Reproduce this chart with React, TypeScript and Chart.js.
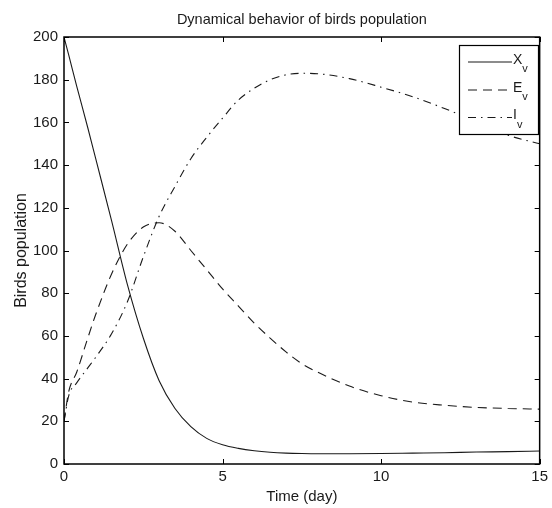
import React, { useEffect, useRef } from "react";
import { Chart, registerables } from "chart.js";

Chart.register(...registerables);

const chartTitle = "Dynamical behavior of birds population";
const xTitle = "Time (day)";
const yTitle = "Birds population";

const times = [0, 0.15, 0.4, 0.75, 1, 1.5, 2, 2.5, 3, 3.5, 4, 4.5, 5, 5.5, 6, 6.5, 7, 7.5, 8, 9, 10, 11, 12, 13, 14, 15];
const xvValues = [200, 191.5, 177, 157.5, 143, 114, 84, 59, 39, 26, 17.5, 12, 9, 7.3, 6.2, 5.5, 5.1, 4.9, 4.8, 4.8, 4.9, 5.1, 5.3, 5.6, 5.8, 6.1];
const evValues = [20, 34, 43, 59, 70, 89, 103, 111, 113, 109, 100, 91, 82, 74, 66, 59, 52.5, 47, 43, 36.5, 32, 29, 27.5, 26.5, 26, 25.7];
const ivValues = [20, 32, 38, 45, 50, 61, 76, 97, 116, 130, 143, 153, 162, 170.5, 176, 180, 182.3, 183, 182.8, 180.5, 176.5, 172, 166.5, 160.5, 154, 150];

const seriesNames = ["X", "E", "I"];
const seriesSub = "v";
const xTicks = [0, 5, 10, 15];
const yTicks = [0, 20, 40, 60, 80, 100, 120, 140, 160, 180, 200];

const FONT = "'Liberation Sans', Arial, Helvetica, sans-serif";
const INK = "#1a1a1a";
const dashes = [[], [9, 6], [8, 5, 1.5, 5]];

const framePlugin = {
  id: "matlabFrame",
  afterDraw(chart: any) {
    const { ctx, chartArea } = chart;
    const { left, right, top, bottom } = chartArea;
    const xs = chart.scales.x;
    const ys = chart.scales.y;
    ctx.save();
    // title
    ctx.fillStyle = INK;
    ctx.font = `14.5px ${FONT}`;
    ctx.textAlign = "center";
    ctx.textBaseline = "middle";
    ctx.fillText(chartTitle, (left + right) / 2, 20);
    // frame
    ctx.strokeStyle = "#000";
    ctx.lineWidth = 1.5;
    ctx.setLineDash([]);
    ctx.strokeRect(left, top, right - left, bottom - top);
    // inward ticks
    ctx.lineWidth = 1;
    const tl = 5;
    ctx.beginPath();
    xTicks.forEach((v) => {
      const px = Math.round(xs.getPixelForValue(v)) + 0.5;
      ctx.moveTo(px, bottom);
      ctx.lineTo(px, bottom - tl);
      ctx.moveTo(px, top);
      ctx.lineTo(px, top + tl);
    });
    yTicks.forEach((v) => {
      const py = Math.round(ys.getPixelForValue(v)) + 0.5;
      ctx.moveTo(left, py);
      ctx.lineTo(left + tl, py);
      ctx.moveTo(right, py);
      ctx.lineTo(right - tl, py);
    });
    ctx.stroke();

    // legend
    const bx = 459, by = 45, bw = 79, bh = 89;
    ctx.fillStyle = "#fff";
    ctx.fillRect(bx, by, bw, bh);
    ctx.strokeStyle = "#000";
    ctx.lineWidth = 1.2;
    ctx.strokeRect(bx + 0.5, by + 0.5, bw, bh);
    const rows = [62, 90, 117.5];
    seriesNames.forEach((name, i) => {
      const y = rows[i];
      ctx.strokeStyle = INK;
      ctx.lineWidth = 1.1;
      ctx.setLineDash(dashes[i]);
      ctx.beginPath();
      ctx.moveTo(468, y);
      ctx.lineTo(512, y);
      ctx.stroke();
      ctx.setLineDash([]);
      ctx.fillStyle = INK;
      ctx.textAlign = "left";
      ctx.textBaseline = "middle";
      ctx.font = `14px ${FONT}`;
      ctx.fillText(name, 513, y - 2);
      const w = ctx.measureText(name).width;
      ctx.font = `11px ${FONT}`;
      ctx.fillText(seriesSub, 513 + w, y + 7);
    });
    ctx.restore();
  },
};

export default function App() {
  const ref = useRef<HTMLCanvasElement | null>(null);
  useEffect(() => {
    if (!ref.current) return;
    const mk = (vals: number[]) => times.map((t, i) => ({ x: t, y: vals[i] }));
    const chart = new Chart(ref.current, {
      type: "line",
      data: {
        datasets: [
          { label: "Xv", data: mk(xvValues), borderColor: INK, borderWidth: 1.1, borderDash: dashes[0], pointRadius: 0, cubicInterpolationMode: "monotone", fill: false },
          { label: "Ev", data: mk(evValues), borderColor: INK, borderWidth: 1.1, borderDash: dashes[1], pointRadius: 0, cubicInterpolationMode: "monotone", fill: false },
          { label: "Iv", data: mk(ivValues), borderColor: INK, borderWidth: 1.1, borderDash: dashes[2], pointRadius: 0, cubicInterpolationMode: "monotone", fill: false },
        ],
      },
      options: {
        responsive: true,
        maintainAspectRatio: false,
        animation: false,
        layout: { padding: { top: 37, right: 9, bottom: 0, left: 0 } },
        plugins: { legend: { display: false }, title: { display: false }, tooltip: { enabled: false } },
        scales: {
          x: {
            type: "linear",
            min: 0,
            max: 15,
            afterFit: (s: any) => { s.height = 44; },
            afterBuildTicks: (s: any) => { s.ticks = xTicks.map((v) => ({ value: v })); },
            grid: { display: false, drawTicks: false },
            border: { display: false },
            ticks: { color: INK, font: { family: FONT, size: 15 }, padding: 4, maxRotation: 0 },
            title: { display: true, text: xTitle, color: INK, font: { family: FONT, size: 15 }, padding: { top: 0, bottom: 2 } },
          },
          y: {
            type: "linear",
            min: 0,
            max: 200,
            afterFit: (s: any) => { s.width = 64; },
            afterBuildTicks: (s: any) => { s.ticks = yTicks.map((v) => ({ value: v })); },
            grid: { display: false, drawTicks: false },
            border: { display: false },
            ticks: { color: INK, font: { family: FONT, size: 15 }, padding: 6 },
            title: { display: true, text: yTitle, color: INK, font: { family: FONT, size: 16 }, padding: { top: 12, bottom: 0 } },
          },
        },
      },
      plugins: [framePlugin],
    } as any);
    return () => chart.destroy();
  }, []);
  return (
    <div style={{ position: "fixed", left: 0, top: 0, width: 552, height: 508, background: "#fff" }}>
      <canvas ref={ref} />
    </div>
  );
}
